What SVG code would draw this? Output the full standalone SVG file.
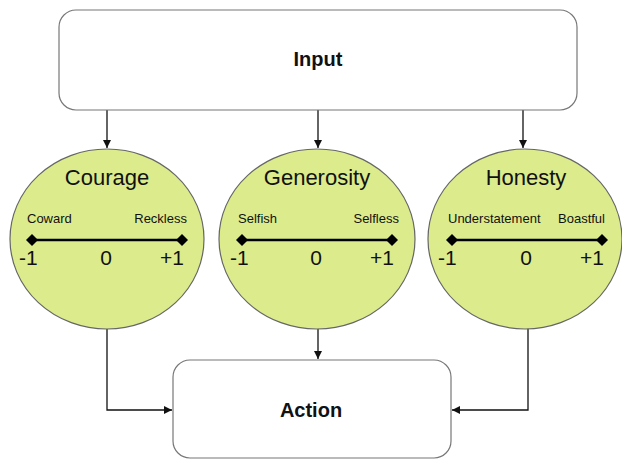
<svg xmlns="http://www.w3.org/2000/svg" width="622" height="460" viewBox="0 0 622 460">
<style>
.box{fill:#fff;stroke:#777;stroke-width:1.2}
.circ{fill:#dcec8c;stroke:#666;stroke-width:1.2}
.t{font-family:"Liberation Sans",Arial,sans-serif;fill:#111}
.bold{font-weight:bold;font-size:20px}
.title{font-size:22px}
.lab{font-size:13px}
.num{font-size:21px}
.axis{stroke:#000;stroke-width:2.5}
.conn{fill:none;stroke:#111;stroke-width:1.3}
</style>
<defs>
<marker id="arr" viewBox="0 0 10 10" refX="10" refY="5" markerWidth="8" markerHeight="8" markerUnits="userSpaceOnUse" orient="auto">
<path d="M0,0 L10,5 L0,10 z" fill="#111"/>
</marker>
<path id="dia" d="M0,-6 L6,0 L0,6 L-6,0 z" fill="#000"/>
</defs>
<g id="connectors">
<line class="conn" x1="107" y1="110" x2="107" y2="148" marker-end="url(#arr)"/>
<line class="conn" x1="318" y1="110" x2="318" y2="148" marker-end="url(#arr)"/>
<line class="conn" x1="523" y1="110" x2="523" y2="148" marker-end="url(#arr)"/>
<polyline class="conn" points="107,328 107,410 172,410" marker-end="url(#arr)"/>
<line class="conn" x1="318" y1="328" x2="318" y2="359" marker-end="url(#arr)"/>
<polyline class="conn" points="528,328 528,410 452,410" marker-end="url(#arr)"/>
</g>
<g id="input">
<rect class="box" x="59" y="10" width="518" height="100" rx="17"/>
<text class="t bold" x="318" y="66" text-anchor="middle">Input</text>
</g>
<g id="courage">
<ellipse class="circ" cx="107" cy="239" rx="97" ry="90"/>
<text class="t title" x="107" y="185" text-anchor="middle">Courage</text>
<text class="t lab" x="27" y="223">Coward</text>
<text class="t lab" x="187" y="223" text-anchor="end">Reckless</text>
<line class="axis" x1="32" y1="240" x2="182" y2="240"/>
<use href="#dia" x="32" y="240"/>
<use href="#dia" x="182" y="240"/>
<text class="t num" x="19" y="265">-1</text>
<text class="t num" x="106" y="265" text-anchor="middle">0</text>
<text class="t num" x="184" y="265" text-anchor="end">+1</text>
</g>
<g id="generosity">
<ellipse class="circ" cx="317" cy="239" rx="98" ry="90"/>
<text class="t title" x="317" y="185" text-anchor="middle">Generosity</text>
<text class="t lab" x="238" y="223">Selfish</text>
<text class="t lab" x="399" y="223" text-anchor="end">Selfless</text>
<line class="axis" x1="242" y1="240" x2="392" y2="240"/>
<use href="#dia" x="242" y="240"/>
<use href="#dia" x="392" y="240"/>
<text class="t num" x="230" y="265">-1</text>
<text class="t num" x="316" y="265" text-anchor="middle">0</text>
<text class="t num" x="394" y="265" text-anchor="end">+1</text>
</g>
<g id="honesty">
<ellipse class="circ" cx="525" cy="239" rx="97" ry="90"/>
<text class="t title" x="526" y="185" text-anchor="middle">Honesty</text>
<text class="t lab" x="448" y="223">Understatement</text>
<text class="t lab" x="605" y="223" text-anchor="end">Boastful</text>
<line class="axis" x1="452" y1="240" x2="602" y2="240"/>
<use href="#dia" x="452" y="240"/>
<use href="#dia" x="602" y="240"/>
<text class="t num" x="438" y="265">-1</text>
<text class="t num" x="526" y="265" text-anchor="middle">0</text>
<text class="t num" x="604" y="265" text-anchor="end">+1</text>
</g>
<g id="action">
<rect class="box" x="173" y="360" width="278" height="98" rx="17"/>
<text class="t bold" x="311" y="417" text-anchor="middle">Action</text>
</g>
</svg>
